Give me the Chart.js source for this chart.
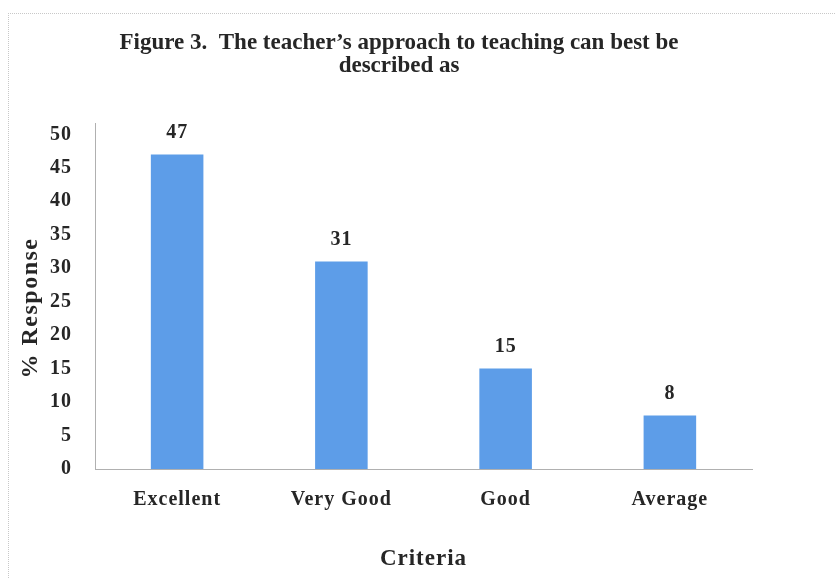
<!DOCTYPE html>
<html>
<head>
<meta charset="utf-8">
<script src="https://cdn.jsdelivr.net/npm/chart.js@4/dist/chart.umd.min.js"></script>
<style>
  html, body { margin: 0; padding: 0; background: #fff; }
  #wrap { position: relative; width: 835px; height: 578px; }
  #frame { position: absolute; left: 8px; top: 13px; right: -2px; bottom: -2px; border-left: 1px dotted #c8c8c8; border-top: 1px dotted #c8c8c8; pointer-events: none; }
</style>
</head>
<body>
<div id="wrap">
  <canvas id="c" width="835" height="578"></canvas>
  <div id="frame"></div>
</div>
<script>
const categories = ["Excellent", "Very Good", "Good", "Average"];
const responses = [47, 31, 15, 8];
const yTickValues = [0, 5, 10, 15, 20, 25, 30, 35, 40, 45, 50];
const titleLines = ["Figure 3.  The teacher\u2019s approach to teaching can best be", "described as"];
const yTitle = "% Response";
const xTitle = "Criteria";

const serif = "'Liberation Serif', 'Times New Roman', serif";
const textColor = "#262626";

const spacing = {
  id: "spacing",
  beforeUpdate(chart) { chart.ctx.letterSpacing = "1px"; },
  beforeDraw(chart) { chart.ctx.letterSpacing = "1px"; }
};

// Chart title and y-axis title, drawn as canvas text
const titles = {
  id: "titles",
  afterDraw(chart) {
    const ctx = chart.ctx;
    ctx.save();
    ctx.letterSpacing = "0px";
    ctx.font = "bold 23px " + serif;
    ctx.fillStyle = textColor;
    ctx.textAlign = "center";
    ctx.textBaseline = "alphabetic";
    titleLines.forEach((line, i) => ctx.fillText(line, 399, 49 + i * 23));
    ctx.restore();

    ctx.save();
    ctx.letterSpacing = "1.5px";
    ctx.font = "bold 24px " + serif;
    ctx.fillStyle = textColor;
    ctx.textAlign = "center";
    ctx.textBaseline = "middle";
    ctx.translate(31, 308);
    ctx.rotate(-Math.PI / 2);
    ctx.fillText(yTitle, 0, 0);
    ctx.restore();
  }
};

const valueLabels = {
  id: "valueLabels",
  afterDatasetsDraw(chart) {
    const ctx = chart.ctx;
    const meta = chart.getDatasetMeta(0);
    ctx.save();
    ctx.letterSpacing = "1px";
    ctx.font = "bold 20px " + serif;
    ctx.fillStyle = textColor;
    ctx.textAlign = "center";
    ctx.textBaseline = "middle";
    meta.data.forEach((el, i) => {
      ctx.fillText(String(chart.data.datasets[0].data[i]), el.x, el.y - 22);
    });
    ctx.restore();
  }
};

new Chart(document.getElementById("c"), {
  type: "bar",
  data: {
    labels: categories,
    datasets: [{
      data: responses,
      backgroundColor: "#5d9de8",
      borderWidth: 0,
      barPercentage: 0.64,
      categoryPercentage: 0.5
    }]
  },
  options: {
    responsive: false,
    animation: false,
    devicePixelRatio: 1,
    layout: { padding: { left: 10, right: 83, top: 123, bottom: 0 } },
    plugins: {
      legend: { display: false },
      tooltip: { enabled: false },
      title: { display: false }
    },
    scales: {
      x: {
        grid: { display: false, drawTicks: false },
        border: { display: true, color: "#b0b0b0", width: 1 },
        ticks: {
          color: textColor,
          font: { family: serif, size: 20, weight: "bold" },
          padding: 19
        },
        title: {
          display: true,
          text: xTitle,
          color: textColor,
          font: { family: serif, size: 23, weight: "bold" },
          padding: { top: 10, bottom: 5 }
        },
        afterFit(scale) { scale.height = 109; }
      },
      y: {
        min: 0,
        max: 51.7,
        grid: { display: false, drawTicks: false },
        border: { display: true, color: "#b0b0b0", width: 1 },
        ticks: {
          color: textColor,
          font: { family: serif, size: 20, weight: "bold" },
          padding: 23
        },
        afterBuildTicks(scale) { scale.ticks = yTickValues.map(v => ({ value: v })); },
        title: { display: false },
        afterFit(scale) { scale.width = 85; }
      }
    }
  },
  plugins: [spacing, titles, valueLabels]
});
</script>
</body>
</html>
